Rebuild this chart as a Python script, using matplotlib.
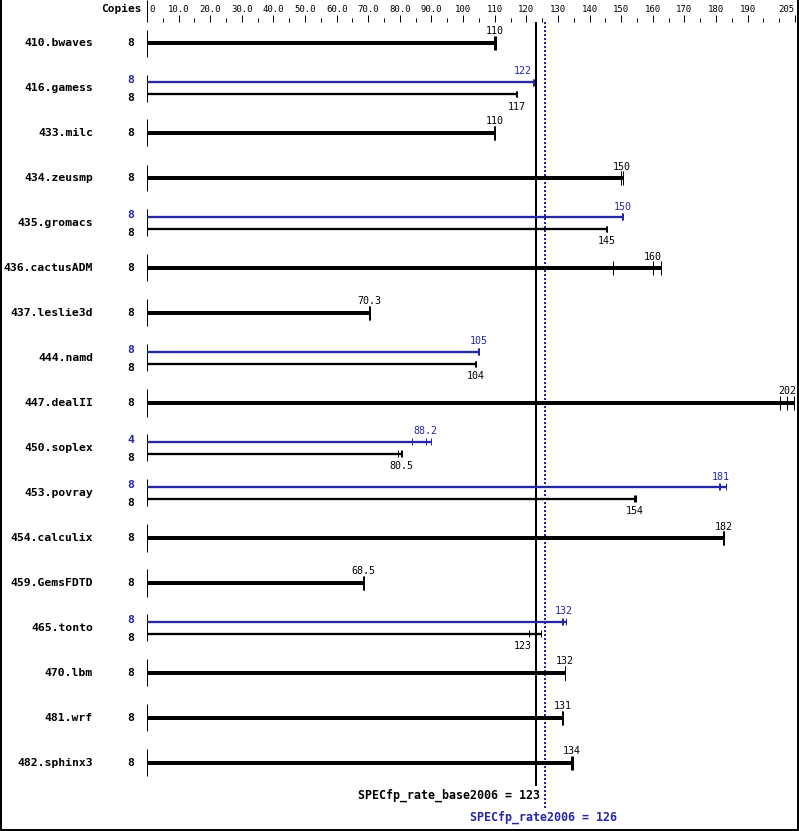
import matplotlib.pyplot as plt
from matplotlib.lines import Line2D

# SPECfp_rate2006 result chart (base = black, peak = blue)

benchmarks = ['410.bwaves', '416.gamess', '433.milc', '434.zeusmp', '435.gromacs',
              '436.cactusADM', '437.leslie3d', '444.namd', '447.dealII', '450.soplex',
              '453.povray', '454.calculix', '459.GemsFDTD', '465.tonto', '470.lbm',
              '481.wrf', '482.sphinx3']
base_copies = [8, 8, 8, 8, 8, 8, 8, 8, 8, 8, 8, 8, 8, 8, 8, 8, 8]
peak_copies = [None, 8, None, None, 8, None, None, 8, None, 4, 8, None, None, 8, None, None, None]

# three runs per benchmark, the median is the reported ratio
base_runs = [
    [109.9, 110.1, 110.3],
    [116.8, 116.9, 117.0],
    [109.8, 110.0, 110.2],
    [150.0, 150.1, 150.6],
    [145.3, 145.4, 145.5],
    [147.4, 160.0, 162.5],
    [70.1, 70.3, 70.5],
    [103.9, 104.0, 104.1],
    [200.4, 202.4, 204.7],
    [79.4, 80.5, 80.6],
    [154.2, 154.4, 154.8],
    [182.2, 182.4, 182.6],
    [68.3, 68.5, 68.7],
    [120.9, 123.0, 124.7],
    [132.3, 132.3, 132.3],
    [131.2, 131.4, 131.6],
    [134.2, 134.3, 134.9],
]
peak_runs = [None, [122.0, 122.2, 122.5], None, None, [150.2, 150.4, 150.6], None, None,
             [104.6, 105.1, 105.1], None, [83.9, 88.2, 89.7], [181.1, 181.4, 183.1],
             None, None, [131.2, 131.7, 132.4], None, None, None]

base_score = 123
peak_score = 126
tick_major = [0, 10, 20, 30, 40, 50, 60, 70, 80, 90, 100, 110, 120, 130, 140, 150,
              160, 170, 180, 190, 205]
tick_labels = ['0', '10.0', '20.0', '30.0', '40.0', '50.0', '60.0', '70.0', '80.0', '90.0',
               '100', '110', '120', '130', '140', '150', '160', '170', '180', '190', '205']
tick_minor = [5, 15, 25, 35, 45, 55, 65, 75, 85, 95, 105, 115, 125, 135, 145, 155,
              165, 175, 185, 195, 200]

BLUE = '#2626a6'
W, H = 799, 831
X0, X1 = 147, 795          # pixel positions of 0 and 205
ROW0, ROWH = 43, 45        # first row centre and row pitch in pixels
s = (X1 - X0) / 205.0

fig = plt.figure(figsize=(W / 100, H / 100), dpi=100)
ax = fig.add_axes([0, 0, 1, 1])
ax.set_xlim(-X0 / s, (W - X0) / s)
ax.set_ylim((H - ROW0) / ROWH, -ROW0 / ROWH)
ax.axis('off')


def dy(px):
    return px / ROWH


def dx(px):
    return px / s


def lw(px):
    return px * 0.72


mono = 'DejaVu Sans Mono'
top_y = dy(-ROW0 + 9)

# top scale
ax.text(dx(-5), top_y, 'Copies', ha='right', va='center', family=mono,
        fontsize=8, fontweight='bold')
ax.vlines(0, dy(-ROW0), dy(-ROW0 + 22), color='black', lw=lw(1))
for v, lab in zip(tick_major, tick_labels):
    if v == 0:
        ax.text(dx(2), top_y, lab, ha='left', va='center', family=mono, fontsize=6.5)
    elif v == 205:
        ax.text(v - dx(1), top_y, lab, ha='right', va='center', family=mono, fontsize=6.5)
    else:
        ax.text(v, top_y, lab, ha='center', va='center', family=mono, fontsize=6.5)
    if v > 0:
        ax.vlines(v, dy(-ROW0 + 15), dy(-ROW0 + 22), color='black', lw=lw(1))
ax.vlines(tick_minor, dy(-ROW0 + 18), dy(-ROW0 + 22), color='black', lw=lw(1))

# reference lines for the overall scores
ax.vlines(base_score, dy(-ROW0 + 22), dy(786 - ROW0), color='black', lw=lw(2))
ax.vlines(peak_score, dy(-ROW0 + 22), dy(808 - ROW0), color=BLUE, lw=lw(2),
          linestyles=(0, (1, 1)))


def value_label(runs, y, color, below=False):
    med = sorted(runs)[1]
    txt = f'{med:.3g}'
    half = dx(3 * len(txt) + 2)
    x, ha = med, 'center'
    if abs(med - base_score) < half:
        x, ha = base_score - dx(4), 'right'
    ax.text(x, y + (dy(12.5) if below else -dy(10.5)), txt, ha=ha, va='center',
            family=mono, fontsize=7.2, color=color)


for i, name in enumerate(benchmarks):
    y = i
    ax.text(dx(93 - X0), y, name, ha='right', va='center', family=mono,
            fontsize=8.2, fontweight='bold')
    ax.vlines(0, y - dy(13.5), y + dy(13.5), color='black', lw=lw(1))
    br = base_runs[i]
    if peak_runs[i] is None:
        ax.text(dx(131 - X0), y, str(base_copies[i]), ha='center', va='center',
                family=mono, fontsize=8.2, fontweight='bold')
        ax.hlines(y, 0, max(br), color='black', lw=lw(4))
        ax.vlines(br, y - dy(7), y + dy(7), color='black', lw=lw(1))
        value_label(br, y - dy(1), 'black')
    else:
        pr = peak_runs[i]
        yp, yb = y - dy(6), y + dy(6)
        ax.text(dx(131 - X0), y - dy(8), str(peak_copies[i]), ha='center', va='center',
                family=mono, fontsize=8.2, fontweight='bold', color=BLUE)
        ax.text(dx(131 - X0), y + dy(10), str(base_copies[i]), ha='center', va='center',
                family=mono, fontsize=8.2, fontweight='bold')
        ax.hlines(yp, 0, max(pr), color=BLUE, lw=lw(2.3))
        ax.vlines(pr, yp - dy(3.5), yp + dy(3.5), color=BLUE, lw=lw(1))
        ax.hlines(yb, 0, max(br), color='black', lw=lw(2.3))
        ax.vlines(br, yb - dy(3.5), yb + dy(3.5), color='black', lw=lw(1))
        value_label(pr, yp, BLUE)
        value_label(br, yb, 'black', below=True)

ax.text(base_score + dx(4), dy(795 - ROW0), f'SPECfp_rate_base2006 = {base_score}',
        ha='right', va='center', family=mono, fontsize=8.4, fontweight='bold')
ax.text(peak_score - dx(2), dy(817 - ROW0), f'SPECfp_rate2006 = {peak_score}',
        ha='center', va='center', family=mono, fontsize=8.4, fontweight='bold', color=BLUE)

# frame on left, right and bottom
for xs, ys in [([0.5 / W, 0.5 / W], [0, 1]),
               ([797.5 / W, 797.5 / W], [0, 1]),
               ([0, 798 / W], [1.5 / H, 1.5 / H])]:
    fig.add_artist(Line2D(xs, ys, transform=fig.transFigure, color='black', lw=lw(2)))

fig.savefig('out.png', dpi=100)
